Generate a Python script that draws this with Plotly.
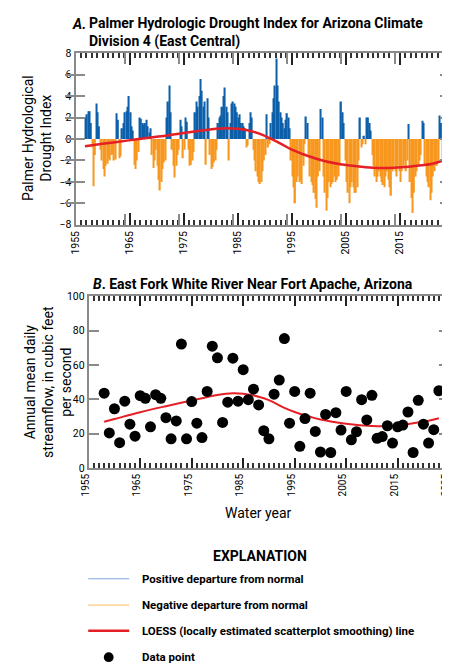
import plotly.graph_objects as go

# Palmer Hydrological Drought Index, quarterly values,
# first quarter starts October 1956 (water year 1957)
phdi_start = 1956.75
phdi = [
    2.0,
    2.3, 2.6, 2.6, 1.5,        # 1957
    -0.8, -4.4, -1.5, 3.3,     # 1958
    2.5, 1.2, -1.0, -2.0,      # 1959
    -2.8, -3.5, -2.5, -2.3,    # 1960
    -1.8, -2.0, -1.5, -1.4,    # 1961
    -2.0, -1.9, 2.4, 1.8,      # 1962
    -1.8, -1.6, 1.0, 1.5,      # 1963
    2.5, 2.6, 3.0, 4.0,        # 1964
    2.5, 1.2, 0.8, -2.4,       # 1965
    -2.8, -2.0, -1.2, 2.0,     # 1966
    1.9, 1.5, 1.3, 1.5,        # 1967
    1.8, 1.2, 0.6, 1.0,        # 1968
    -1.5, -2.7, -2.0, -1.0,    # 1969
    -2.5, -3.8, -4.8, -4.0,    # 1970
    -2.8, -2.2, -2.0, 2.0,     # 1971
    3.5, 5.0, 2.5, -1.0,       # 1972
    -2.5, -3.6, -2.5, -1.5,    # 1973
    -1.0, 1.8, 1.2, -1.8,      # 1974
    -1.0, 2.0, 1.6, -1.0,      # 1975
    -2.5, -2.4, -2.0, -1.2,    # 1976
    2.5, 3.5, 3.0, 4.0,        # 1977
    5.6, 4.5, 3.0, 3.5,        # 1978
    -2.4, 3.8, 2.0, -1.5,      # 1979
    -2.8, -2.6, -2.2, -2.0,    # 1980
    -1.0, 1.5, 2.0, 2.2,       # 1981
    3.0, 4.0, 4.8, 3.0,        # 1982
    2.5, -2.0, 1.5, 3.3,       # 1983
    3.5, 3.3, 3.0, 2.5,        # 1984
    2.0, 2.3, 1.5, 1.5,        # 1985
    1.2, 1.0, -0.8, -0.6,      # 1986
    1.5, 2.5, 2.0, -1.0,       # 1987
    -2.0, -3.0, -3.5, -4.0,    # 1988
    -4.2, -4.0, -3.0, -2.0,    # 1989
    -1.5, 2.3, -0.8, -0.5,     # 1990
    1.5, 2.5, 3.8, 5.0,        # 1991
    7.5, 5.0, 3.5, 2.5,        # 1992
    2.0, 1.5, 1.0, 1.8,        # 1993
    2.4, 2.0, 1.0, -2.0,       # 1994
    -3.5, -4.5, -6.0, -4.0,    # 1995
    -3.5, -4.0, -3.8, -4.2,    # 1996
    -2.5, -0.5, 2.1, 1.5,      # 1997
    -1.5, -3.5, -4.0, -4.3,    # 1998
    -5.0, -5.6, -6.4, -3.5,    # 1999
    -3.0, 2.8, 2.0, -3.5,      # 2000
    -5.0, -6.7, -5.5, -4.0,    # 2001
    -4.5, -4.2, -4.0, -3.5,    # 2002
    -4.0, -3.8, -3.5, -2.5,    # 2003
    3.5, 2.5, 1.5, -2.0,       # 2004
    -4.0, -5.0, -6.0, -4.5,    # 2005
    -4.0, -4.5, -5.0, -5.0,    # 2006
    -4.5, -2.0, 2.0, -0.8,     # 2007
    -0.5, 0.3, -0.5, 2.0,      # 2008
    2.0, 1.5, 0.8, -1.5,       # 2009
    -2.5, -3.5, -4.0, -3.5,    # 2010
    -3.0, -3.5, -4.0, -4.3,    # 2011
    -4.5, -3.5, -3.0, -3.8,    # 2012
    -4.5, -5.3, -3.0, -2.5,    # 2013
    -3.0, -3.5, -2.5, -3.0,    # 2014
    -4.0, -3.0, -2.5, -2.0,    # 2015
    -3.0, -2.0, 1.4, -4.0,     # 2016
    -5.5, -6.9, -5.0, -3.5,    # 2017
    -3.0, -2.5, -2.0, -1.5,    # 2018
    1.7, 1.5, -2.5, -3.5,      # 2019
    -4.0, -4.5, -5.7, -5.0,    # 2020
    -3.5, -3.0, -2.0, -2.5,    # 2021
    -2.0, 2.2, 1.5, -1.8,      # 2022
]

loess_a_years = [1956.75, 1960, 1963, 1966, 1969, 1972, 1975, 1978, 1981, 1983,
                 1985, 1987, 1989, 1991, 1993, 1995, 1997, 1999, 2001, 2004,
                 2007, 2010, 2013, 2016, 2019, 2021, 2023]
loess_a_values = [-0.67, -0.45, -0.25, -0.05, 0.15, 0.33, 0.55, 0.76, 0.95, 1.0,
                  0.95, 0.8, 0.5, 0.05, -0.45, -1.0, -1.4, -1.75, -2.05, -2.35,
                  -2.55, -2.68, -2.7, -2.62, -2.45, -2.3, -2.0]

# Annual mean daily streamflow, East Fork White River near Fort Apache
flow_years = list(range(1958, 2024))
flow_cfs = [43.6, 20.4, 34.5, 14.7, 38.9, 25.5, 18.5, 42.1, 40.6, 24.0,
            42.7, 40.6, 29.3, 17.0, 27.4, 72.2, 17.0, 38.7, 26.1, 17.7,
            44.6, 71.0, 64.2, 26.5, 38.3, 64.0, 38.9, 57.3, 39.8, 45.9,
            36.7, 21.7, 17.0, 43.0, 51.2, 75.4, 26.1, 44.6, 12.6, 28.8,
            43.6, 21.3, 9.3, 31.2, 9.0, 32.2, 22.1, 44.6, 16.4, 21.1,
            39.8, 28.0, 42.3, 17.3, 18.3, 24.6, 14.5, 24.0, 25.0, 32.6,
            9.0, 39.4, 25.5, 14.5, 22.3, 45.0]

loess_b_years = [1958, 1960, 1965, 1970, 1975, 1980, 1983, 1985, 1988, 1990,
                 1993, 1995, 1998, 2000, 2005, 2010, 2014, 2018, 2021, 2023]
loess_b_values = [26.9, 28.5, 32.5, 36.0, 39.3, 42.5, 43.5, 43.2, 41.5, 39.5,
                  35.0, 32.6, 29.8, 28.2, 25.8, 24.5, 24.5, 26.0, 27.5, 29.0]

BLUE = "#0c5fa8"
ORANGE = "#f7971f"
RED = "#e51f26"
FRAME = "#8a8a8a"
FONT = "Roboto, Liberation Sans, sans-serif"
W, H = 450, 665


def px(x):
    return x / W


def py(y):
    return 1 - y / H


xs = [phdi_start + 0.125 + 0.25 * i for i in range(len(phdi))]
pos_x = [x for x, v in zip(xs, phdi) if v >= 0]
pos_y = [v for v in phdi if v >= 0]
neg_x = [x for x, v in zip(xs, phdi) if v < 0]
neg_y = [v for v in phdi if v < 0]

fig = go.Figure()
fig.add_trace(go.Bar(x=pos_x, y=pos_y, width=0.25, marker=dict(color=BLUE, line_width=0),
                     xaxis="x", yaxis="y"))
fig.add_trace(go.Bar(x=neg_x, y=neg_y, width=0.25, marker=dict(color=ORANGE, line_width=0),
                     xaxis="x", yaxis="y"))
fig.add_trace(go.Scatter(x=loess_a_years, y=loess_a_values, mode="lines",
                         line=dict(color=RED, width=2.5, shape="spline"), xaxis="x", yaxis="y"))
fig.add_trace(go.Scatter(x=loess_b_years, y=loess_b_values, mode="lines",
                         line=dict(color=RED, width=2, shape="spline"), xaxis="x2", yaxis="y2"))
fig.add_trace(go.Scatter(x=flow_years, y=flow_cfs, mode="markers",
                         marker=dict(color="black", size=11), xaxis="x2", yaxis="y2"))

tickfont = dict(family=FONT, size=10.5, color="black")
common_x = dict(tickangle=-90, ticks="inside", showline=True, linecolor=FRAME, linewidth=2,
                mirror="allticks", showgrid=False, zeroline=False, tickfont=tickfont,
                tickcolor="#222", tickwidth=1.5, ticklabeloverflow="allow")
common_y = dict(ticks="inside", showline=True, linecolor=FRAME, linewidth=2,
                mirror="allticks", showgrid=False, zeroline=False, tickfont=tickfont,
                tickcolor=FRAME, tickwidth=2)

fig.update_layout(
    width=W, height=H, autosize=False,
    margin=dict(l=0, r=0, t=0, b=0),
    paper_bgcolor="white", plot_bgcolor="white",
    showlegend=False, barmode="overlay",
    font=dict(family=FONT, color="black"),
    xaxis=dict(common_x, domain=[px(60), px(443)], anchor="y", range=[1955, 2024.1],
               tick0=1955, dtick=10, ticklen=12,
               minor=dict(dtick=1, tick0=1955, ticks="inside", ticklen=5, tickcolor="#333")),
    xaxis3=dict(overlaying="x", matches="x", anchor="y", showticklabels=False,
                tickvals=[1964.1 + 10 * k for k in range(6)], ticks="inside", ticklen=11,
                tickcolor=FRAME, tickwidth=2, mirror="allticks", showline=False,
                showgrid=False, zeroline=False),
    yaxis=dict(common_y, domain=[py(215), py(40)], anchor="x", range=[-8, 8], dtick=2,
               ticklen=9),
    xaxis2=dict(common_x, domain=[px(73.5), px(443)], anchor="y2", range=[1955, 2025],
                tick0=1955, dtick=10, ticklen=10, ticklabelshift=-3,
                tickfont=dict(family=FONT, size=10, color="black"),
                minor=dict(dtick=1, tick0=1955, ticks="inside", ticklen=5, tickcolor="#333")),
    yaxis2=dict(common_y, domain=[py(463), py(288)], anchor="x2", range=[0, 100], dtick=20,
                ticklen=10),
)
# invisible trace so the overlay axis is drawn
fig.add_trace(go.Scatter(x=[1955], y=[0], mode="markers", marker=dict(opacity=0),
                         xaxis="x3", yaxis="y", hoverinfo="skip"))

ann = []
bold_title = dict(family=FONT, size=14, color="black")
ann.append(dict(x=px(54), y=py(10), text="<b><i>A.</i></b>", font=bold_title,
                xanchor="left", yanchor="middle"))
ann.append(dict(x=px(72), y=py(19), text="<b>Palmer Hydrologic Drought Index for Arizona Climate"
                "<br>Division 4 (East Central)</b>", font=bold_title, align="left",
                xanchor="left", yanchor="middle"))
ann.append(dict(x=px(76), y=py(275), text="<b><i>B</i>. East Fork White River Near Fort Apache, Arizona</b>",
                font=bold_title, xanchor="left", yanchor="middle"))
ann.append(dict(x=px(20), y=py(127), text="Palmer Hydrological<br>Drought Index", textangle=-90,
                font=dict(family=FONT, size=14), xanchor="center", yanchor="middle"))
ann.append(dict(x=px(31), y=py(375), text="Annual mean daily<br>streamflow, in cubic feet<br>per second",
                textangle=-90, font=dict(family=FONT, size=14), xanchor="center", yanchor="middle"))
ann.append(dict(x=px(248), y=py(509), text="Water year", font=dict(family=FONT, size=14),
                xanchor="center", yanchor="middle"))
ann.append(dict(x=px(249), y=py(553), text="<b>EXPLANATION</b>", font=dict(family=FONT, size=14),
                xanchor="center", yanchor="middle"))

labels = ["Positive departure from normal", "Negative departure from normal",
          "LOESS (locally estimated scatterplot smoothing) line", "Data point"]
rows = [576, 603, 629, 656]
for lab, r in zip(labels, rows):
    ann.append(dict(x=px(126), y=py(r), text="<b>" + lab + "</b>",
                    font=dict(family=FONT, size=11.5, color="black"),
                    xanchor="left", yanchor="middle"))
for a in ann:
    a.update(xref="paper", yref="paper", showarrow=False)
fig.update_layout(annotations=ann)

shapes = [
    dict(type="line", x0=px(73), x1=px(115), y0=py(576), y1=py(576), line=dict(color="#7fa8d6", width=1.2)),
    dict(type="line", x0=px(73), x1=px(115), y0=py(603), y1=py(603), line=dict(color="#fcc77f", width=1.2)),
    dict(type="line", x0=px(73), x1=px(115), y0=py(629), y1=py(629), line=dict(color=RED, width=2.5)),
    dict(type="circle", x0=px(89), x1=px(99), y0=py(661), y1=py(651), fillcolor="black", line_width=0),
]
for s in shapes:
    s.update(xref="paper", yref="paper")
fig.update_layout(shapes=shapes)

fig.write_html("out.html")
